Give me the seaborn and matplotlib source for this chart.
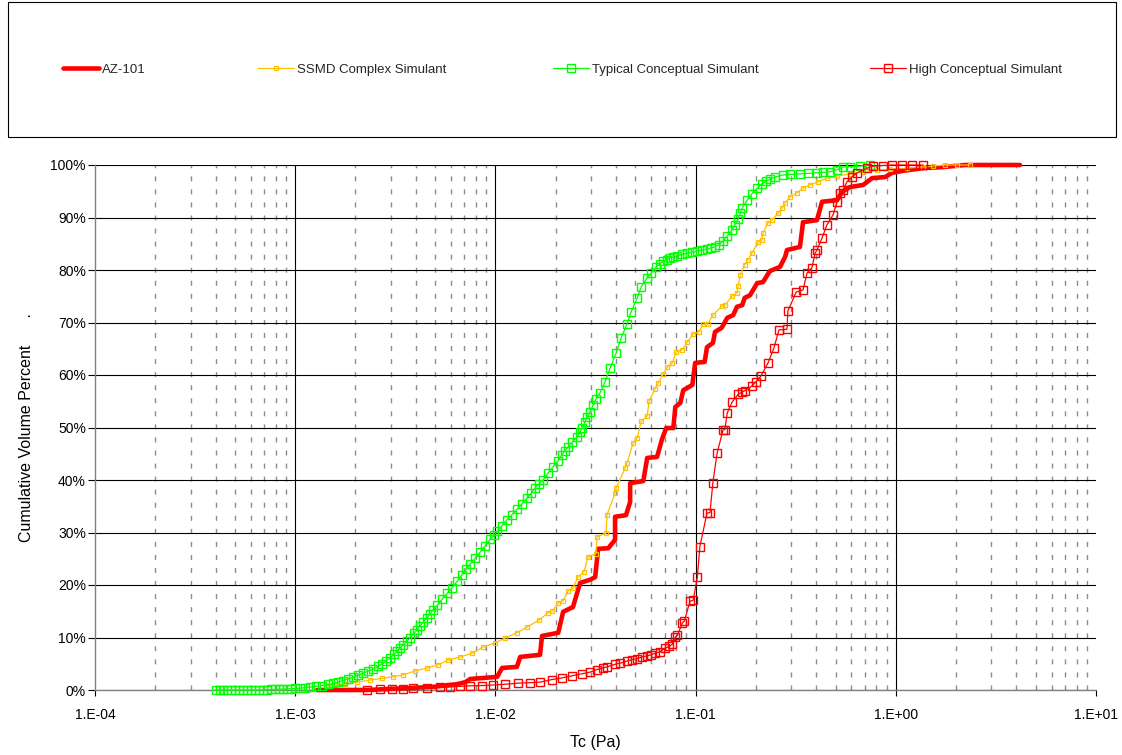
import math
import matplotlib
matplotlib.use("Agg")
import matplotlib.pyplot as plt
from matplotlib.ticker import FixedLocator, FuncFormatter, NullLocator
from matplotlib.patches import Rectangle
import pandas as pd
import seaborn as sns

# ---- Cumulative volume percent vs. critical shear stress Tc (Pa) ----
az101_tc = [1.29e-3, 2.28e-3, 3.88e-3, 4.89e-3, 6.44e-3, 7.07e-3, 7.49e-3, 1.02e-2, 1.08e-2, 1.28e-2,
            1.33e-2, 1.67e-2, 1.71e-2, 2.06e-2, 2.18e-2, 2.44e-2, 2.65e-2, 2.97e-2, 3.15e-2, 3.26e-2,
            3.66e-2, 3.96e-2, 3.96e-2, 4.49e-2, 4.71e-2, 4.71e-2, 5.48e-2, 5.73e-2, 6.42e-2, 6.80e-2,
            7.13e-2, 7.74e-2, 7.92e-2, 8.39e-2, 8.68e-2, 9.63e-2, 9.95e-2, 0.111, 0.114, 0.122,
            0.125, 0.135, 0.144, 0.154, 0.161, 0.171, 0.176, 0.187, 0.203, 0.217,
            0.235, 0.264, 0.280, 0.286, 0.332, 0.344, 0.404, 0.428, 0.509, 0.539,
            0.591, 0.687, 0.761, 0.884, 0.956, 1.09, 1.37, 1.72, 2.22, 4.17]
az101_pct = [0, 0, 0.4, 0.6, 1.1, 1.5, 2.1, 2.5, 4.2, 4.4,
             6.3, 6.7, 10.3, 10.9, 14.9, 15.8, 20.4, 21.0, 21.5, 26.9,
             27.0, 28.6, 33.0, 33.3, 35.8, 39.4, 39.8, 44.2, 44.4, 47.8,
             49.9, 49.9, 53.9, 54.7, 57.1, 58.1, 62.3, 62.5, 65.3, 66.1,
             68.2, 69.0, 70.9, 71.4, 73.0, 73.3, 74.7, 75.2, 77.5, 77.7,
             79.8, 80.6, 82.5, 83.8, 84.4, 89.1, 89.5, 93.0, 93.3, 94.9,
             95.8, 96.2, 97.5, 97.7, 98.5, 98.9, 99.4, 99.6, 100, 100]

ssmd_tc = [1.49e-3, 1.77e-3, 2.04e-3, 2.36e-3, 2.72e-3, 3.08e-3, 3.46e-3, 3.97e-3, 4.56e-3, 5.18e-3,
           5.81e-3, 6.67e-3, 7.65e-3, 8.69e-3, 1.00e-2, 1.12e-2, 1.28e-2, 1.44e-2, 1.65e-2, 1.83e-2,
           1.92e-2, 2.06e-2, 2.18e-2, 2.31e-2, 2.44e-2, 2.58e-2, 2.77e-2, 2.90e-2, 3.18e-2, 3.22e-2,
           3.57e-2, 3.61e-2, 3.96e-2, 4.01e-2, 4.45e-2, 4.54e-2, 4.87e-2, 5.11e-2, 5.35e-2, 5.73e-2,
           5.86e-2, 6.28e-2, 6.50e-2, 6.90e-2, 7.22e-2, 7.64e-2, 8.01e-2, 8.59e-2, 9.09e-2, 9.73e-2,
           0.104, 0.109, 0.115, 0.122, 0.135, 0.140, 0.152, 0.161, 0.163, 0.167,
           0.176, 0.183, 0.191, 0.205, 0.214, 0.217, 0.230, 0.241, 0.258, 0.270,
           0.280, 0.296, 0.321, 0.344, 0.373, 0.409, 0.453, 0.509, 0.591, 0.687,
           0.808, 0.936, 1.14, 1.37, 1.53, 1.76, 2.02, 2.35]
ssmd_pct = [0.8, 1.2, 1.5, 1.9, 2.2, 2.5, 2.9, 3.6, 4.2, 4.8,
            5.7, 6.3, 7.0, 8.2, 9.0, 9.9, 10.9, 12.0, 13.3, 14.7,
            15.0, 16.6, 17.0, 18.9, 19.4, 21.5, 22.5, 25.3, 26.0, 29.2,
            29.9, 33.4, 37.5, 38.5, 42.3, 43.2, 47.0, 48.0, 51.2, 52.2,
            55.1, 57.4, 58.5, 60.2, 61.5, 62.3, 64.4, 64.8, 66.3, 67.8,
            68.2, 69.7, 69.7, 71.4, 73.1, 73.3, 75.0, 75.6, 77.0, 79.0,
            81.0, 82.0, 83.2, 85.3, 85.7, 87.0, 89.0, 89.5, 90.8, 91.8,
            92.8, 93.9, 94.7, 95.6, 96.2, 96.8, 97.5, 97.9, 98.3, 98.7,
            99.0, 99.2, 99.4, 99.6, 99.8, 100, 100, 100]

typical_tc = [4.0e-4, 4.19e-4, 4.38e-4, 4.59e-4, 4.8e-4, 5.03e-4, 5.26e-4, 5.51e-4, 5.77e-4, 6.04e-4,
              6.32e-4, 6.62e-4, 6.93e-4, 7.25e-4, 7.59e-4, 7.95e-4, 8.32e-4, 8.71e-4, 9.12e-4, 9.55e-4,
              1.0e-3, 1.06e-3, 1.12e-3, 1.19e-3, 1.27e-3, 1.36e-3, 1.46e-3, 1.55e-3, 1.64e-3, 1.73e-3,
              1.84e-3, 1.95e-3, 2.06e-3, 2.18e-3, 2.31e-3, 2.45e-3, 2.59e-3, 2.72e-3, 2.84e-3, 2.98e-3,
              3.12e-3, 3.23e-3, 3.34e-3, 3.46e-3, 3.62e-3, 3.75e-3, 3.93e-3, 4.06e-3, 4.21e-3, 4.35e-3,
              4.56e-3, 4.72e-3, 4.89e-3, 5.12e-3, 5.42e-3, 5.74e-3, 6.08e-3, 6.44e-3, 6.82e-3, 7.15e-3,
              7.49e-3, 7.93e-3, 8.40e-3, 8.90e-3, 9.43e-3, 9.86e-3,
              1.02e-2, 1.08e-2, 1.14e-2, 1.21e-2, 1.28e-2, 1.36e-2, 1.44e-2, 1.51e-2, 1.58e-2, 1.65e-2,
              1.73e-2, 1.83e-2, 1.94e-2, 2.06e-2, 2.15e-2, 2.23e-2, 2.31e-2, 2.41e-2, 2.56e-2, 2.65e-2,
              2.71e-2, 2.80e-2, 2.87e-2, 2.97e-2, 3.07e-2, 3.18e-2, 3.33e-2, 3.53e-2, 3.74e-2, 4.01e-2,
              4.24e-2, 4.54e-2, 4.76e-2, 5.11e-2, 5.35e-2, 5.73e-2, 6.00e-2, 6.36e-2, 6.66e-2, 6.90e-2,
              7.22e-2, 7.47e-2, 7.74e-2, 8.11e-2, 8.59e-2, 9.09e-2, 9.63e-2,
              0.102, 0.108, 0.114, 0.119, 0.125, 0.131, 0.137, 0.144, 0.152, 0.157,
              0.163, 0.167, 0.171, 0.181, 0.191, 0.203, 0.214, 0.225, 0.235, 0.249,
              0.273, 0.296, 0.332, 0.365, 0.404, 0.433, 0.469, 0.509, 0.545, 0.591,
              0.664, 0.745]
typical_pct = [0, 0, 0, 0, 0, 0, 0, 0, 0, 0,
               0, 0, 0.05, 0.05, 0.1, 0.1, 0.15, 0.2, 0.2, 0.25,
               0.3, 0.35, 0.45, 0.55, 0.7, 0.85, 1.05, 1.25, 1.5, 1.8,
               2.1, 2.45, 2.8, 3.2, 3.6, 4.0, 4.5, 5.0, 5.5, 6.1,
               6.8, 7.4, 8.0, 8.6, 9.3, 10.0, 10.8, 11.5, 12.2, 12.9,
               13.8, 14.5, 15.3, 16.1, 17.3, 18.4, 19.5, 20.7, 22.0, 23.0,
               24.0, 25.1, 26.3, 27.5, 28.7, 29.5,
               30.2, 31.3, 32.4, 33.4, 34.4, 35.5, 36.6, 37.5, 38.5, 39.3,
               40.0, 41.3, 42.5, 43.7, 44.8, 45.6, 46.3, 47.2, 48.2, 49.2,
               50.0, 51.0, 52.0, 53.0, 54.2, 55.4, 56.6, 58.7, 61.3, 64.2,
               67.0, 69.7, 72.0, 74.7, 76.8, 78.5, 79.4, 80.6, 81.2, 81.7,
               82.0, 82.3, 82.5, 82.7, 83.0, 83.2, 83.4,
               83.6, 83.8, 84.0, 84.2, 84.4, 84.8, 85.5, 86.5, 87.6, 88.6,
               89.7, 90.8, 91.8, 93.3, 94.5, 95.6, 96.4, 96.9, 97.3, 97.7,
               98.1, 98.2, 98.3, 98.4, 98.5, 98.6, 98.7, 99.1, 99.6, 99.7,
               99.8, 100.0]

high_tc = [2.28e-3, 2.65e-3, 3.04e-3, 3.46e-3, 3.88e-3, 4.56e-3, 5.30e-3, 5.94e-3, 6.67e-3, 7.49e-3,
           8.60e-3, 9.76e-3, 1.12e-2, 1.30e-2, 1.49e-2, 1.67e-2, 1.92e-2, 2.15e-2, 2.41e-2, 2.71e-2,
           2.97e-2, 3.22e-2, 3.45e-2, 3.61e-2, 3.96e-2, 4.19e-2, 4.54e-2, 4.82e-2, 5.11e-2, 5.41e-2,
           5.73e-2, 6.00e-2, 6.28e-2, 6.66e-2, 7.05e-2, 7.38e-2, 7.64e-2, 7.92e-2, 8.11e-2, 8.59e-2,
           8.78e-2, 9.38e-2, 9.73e-2, 0.102, 0.105, 0.114, 0.118, 0.122, 0.128, 0.137,
           0.140, 0.144, 0.152, 0.163, 0.171, 0.176, 0.191, 0.200, 0.212, 0.230,
           0.246, 0.261, 0.286, 0.289, 0.318, 0.344, 0.360, 0.381, 0.395, 0.404,
           0.428, 0.453, 0.486, 0.509, 0.527, 0.545, 0.570, 0.604, 0.641, 0.719,
           0.770, 0.863, 0.956, 1.07, 1.20, 1.37]
high_pct = [0.0, 0.1, 0.1, 0.2, 0.3, 0.4, 0.5, 0.6, 0.7, 0.8,
            0.85, 0.95, 1.1, 1.3, 1.4, 1.5, 2.0, 2.3, 2.7, 3.1,
            3.4, 3.9, 4.2, 4.4, 4.9, 5.1, 5.5, 5.8, 6.0, 6.3,
            6.5, 6.7, 7.0, 7.3, 8.0, 8.3, 8.7, 10.1, 10.4, 12.8,
            13.1, 16.9, 17.1, 21.5, 27.3, 33.7, 33.8, 39.5, 45.1, 49.5,
            49.6, 52.8, 54.8, 56.3, 56.8, 57.0, 57.9, 58.7, 59.8, 62.3,
            65.1, 68.6, 68.7, 72.2, 75.8, 76.2, 79.4, 80.4, 83.2, 83.8,
            86.1, 88.6, 90.5, 93.0, 94.7, 95.2, 96.8, 97.7, 98.5, 99.4,
            99.8, 99.9, 100, 100, 100, 100]

series_names = ["AZ-101", "SSMD Complex Simulant", "Typical Conceptual Simulant", "High Conceptual Simulant"]
x_tick_values = [1e-4, 1e-3, 1e-2, 1e-1, 1e0, 1e1]
y_tick_values = [0, 10, 20, 30, 40, 50, 60, 70, 80, 90, 100]

# ---- styling ----
sns.set_theme(style="white")
plt.rcParams["font.family"] = ["Liberation Sans", "DejaVu Sans"]

W, H = 1122, 755
fig = plt.figure(figsize=(W / 100, H / 100), dpi=100)
fig.patch.set_facecolor("white")
ax = fig.add_axes([95 / W, 65 / H, 1001 / W, 525 / H])
ax.set_facecolor("white")

styles = {
    "AZ-101": dict(color="#FF0000", linewidth=3.3, solid_joinstyle="round", zorder=3),
    "SSMD Complex Simulant": dict(color="#FFC000", linewidth=0.9, marker="s", markersize=3.0,
                                  markerfacecolor="none", markeredgecolor="#FFC000",
                                  markeredgewidth=0.9, zorder=4),
    "Typical Conceptual Simulant": dict(color="#00FF00", linewidth=0.9, marker="s", markersize=5.8,
                                        markerfacecolor="none", markeredgecolor="#00FF00",
                                        markeredgewidth=1.0, zorder=5),
    "High Conceptual Simulant": dict(color="#FF0000", linewidth=0.9, marker="s", markersize=5.8,
                                     markerfacecolor="none", markeredgecolor="#FF0000",
                                     markeredgewidth=1.0, zorder=6),
}
data = {
    "AZ-101": (az101_tc, az101_pct),
    "SSMD Complex Simulant": (ssmd_tc, ssmd_pct),
    "Typical Conceptual Simulant": (typical_tc, typical_pct),
    "High Conceptual Simulant": (high_tc, high_pct),
}

for name in series_names:
    tc, pct = data[name]
    df = pd.DataFrame({"Tc": tc, "pct": pct})
    sns.lineplot(data=df, x="Tc", y="pct", ax=ax, sort=False, estimator=None,
                 label=name, clip_on=False, **styles[name])

handles, labels = ax.get_legend_handles_labels()
if ax.get_legend() is not None:
    ax.get_legend().remove()

ax.set_xscale("log")
ax.set_xlim(1e-4, 1e1)
ax.set_ylim(0, 100)

# gridlines: solid decades, dashed intermediate values
for e in range(-4, 1):
    for m in range(2, 10):
        ax.axvline(m * 10.0 ** e, color="#8C8C8C", linewidth=1.0, dashes=(3.6, 5.8), zorder=0.5)
for v in x_tick_values[1:-1]:
    ax.axvline(v, color="black", linewidth=0.8, zorder=0.6)
for v in y_tick_values:
    ax.axhline(v, color="black", linewidth=0.8, zorder=0.6)

ax.xaxis.set_major_locator(FixedLocator(x_tick_values))
ax.xaxis.set_minor_locator(NullLocator())
ax.xaxis.set_major_formatter(FuncFormatter(lambda v, p: "1.E{:+03d}".format(int(round(math.log10(v))))))
ax.yaxis.set_major_locator(FixedLocator(y_tick_values))
ax.yaxis.set_major_formatter(FuncFormatter(lambda v, p: "{:d}%".format(int(round(v)))))

ax.tick_params(axis="x", which="major", direction="out", length=4, width=0.8, color="black",
               pad=9, labelsize=10, labelcolor="black", bottom=True)
ax.tick_params(axis="y", which="major", direction="out", length=5, width=0.8, color="black",
               pad=1.5, labelsize=10, labelcolor="black", left=True)

for side in ["top", "right"]:
    ax.spines[side].set_visible(False)
for side in ["left", "bottom"]:
    ax.spines[side].set_visible(True)
    ax.spines[side].set_color("#808080")
    ax.spines[side].set_linewidth(1.0)

ax.set_xlabel("Tc (Pa)", fontsize=11.5, color="black", labelpad=9)
ax.set_ylabel("Cumulative Volume Percent      .", fontsize=11.5, color="black", labelpad=12)

# legend panel across the top
fig.add_artist(Rectangle((8 / W, 1 - 137 / H), 1108 / W, 135 / H, transform=fig.transFigure,
                         facecolor="white", edgecolor="black", linewidth=0.8))
entry_x = [63, 258, 553, 870]
for h, lab, xpx in zip(handles, labels, entry_x):
    fig.legend([h], [lab], loc="center left", bbox_to_anchor=(xpx / W, 1 - 70 / H),
               frameon=False, borderpad=0, borderaxespad=0, handlelength=2.7,
               handletextpad=0.25, fontsize=9.5, numpoints=1)

fig.savefig("out.png", dpi=100, facecolor="white")
